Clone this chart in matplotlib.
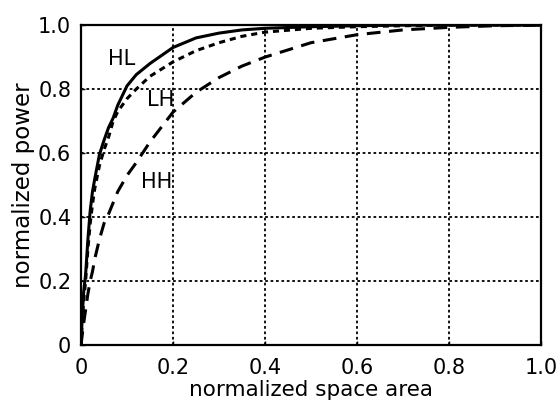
import matplotlib
matplotlib.use("Agg")
import matplotlib.pyplot as plt

x = [0, 0.003, 0.006, 0.01, 0.015, 0.02, 0.025, 0.03, 0.04, 0.05, 0.06, 0.07, 0.08,
     0.1, 0.12, 0.15, 0.2, 0.25, 0.3, 0.35, 0.4, 0.5, 0.6, 0.7, 0.8, 0.9, 1.0]
hl = [0, 0.10, 0.17, 0.22, 0.33, 0.42, 0.48, 0.52, 0.595, 0.64, 0.68, 0.71, 0.75,
      0.81, 0.845, 0.88, 0.93, 0.96, 0.975, 0.985, 0.99, 0.995, 0.998, 1, 1, 1, 1]
lh = [0, 0.08, 0.14, 0.20, 0.30, 0.38, 0.44, 0.49, 0.56, 0.61, 0.65, 0.70, 0.73,
      0.77, 0.80, 0.84, 0.885, 0.92, 0.945, 0.965, 0.978, 0.99, 0.995, 0.998, 1, 1, 1]
hh = [0, 0.035, 0.07, 0.11, 0.16, 0.20, 0.23, 0.27, 0.33, 0.38, 0.41, 0.445, 0.48,
      0.53, 0.57, 0.635, 0.728, 0.79, 0.836, 0.872, 0.90, 0.945, 0.97, 0.985, 0.993, 0.998, 1.0]

labels = ["HL", "LH", "HH"]
label_pos = [(0.089, 0.894), (0.172, 0.766), (0.165, 0.51)]
ticks = [0, 0.2, 0.4, 0.6, 0.8, 1.0]
ticklabels = ["0", "0.2", "0.4", "0.6", "0.8", "1.0"]

plt.rcParams['font.family'] = ['DejaVu Sans']
fig = plt.figure(figsize=(5.59, 4.05), dpi=100)
ax = fig.add_axes([0.1449, 0.148, 0.823, 0.790])

ax.plot(x, hl, color='black', lw=2.2, solid_capstyle='butt', solid_joinstyle='round')
ax.plot(x, lh, color='black', lw=2.2, dashes=(2.0, 1.6))
ax.plot(x, hh, color='black', lw=2.2, dashes=(4.5, 2.8))

for t, (px, py) in zip(labels, label_pos):
    ax.text(px, py, t, fontsize=15, ha='center', va='center')

ax.set_xlim(0, 1)
ax.set_ylim(0, 1)
ax.set_xticks(ticks)
ax.set_yticks(ticks)
ax.set_xticklabels(ticklabels, fontsize=15)
ax.set_yticklabels(ticklabels, fontsize=15)
ax.tick_params(axis='x', direction='in', length=3, width=1, pad=9)
ax.tick_params(axis='y', direction='in', length=3, width=1, pad=7)
ax.grid(True, color='black', linestyle=(0, (1.5, 1.5)), linewidth=1.3)
for s in ax.spines.values():
    s.set_linewidth(1.6)
ax.set_xlabel("normalized space area", fontsize=15.5, labelpad=2)
ax.set_ylabel("normalized power", fontsize=16.5, labelpad=2)

fig.savefig("out.png", dpi=100)
